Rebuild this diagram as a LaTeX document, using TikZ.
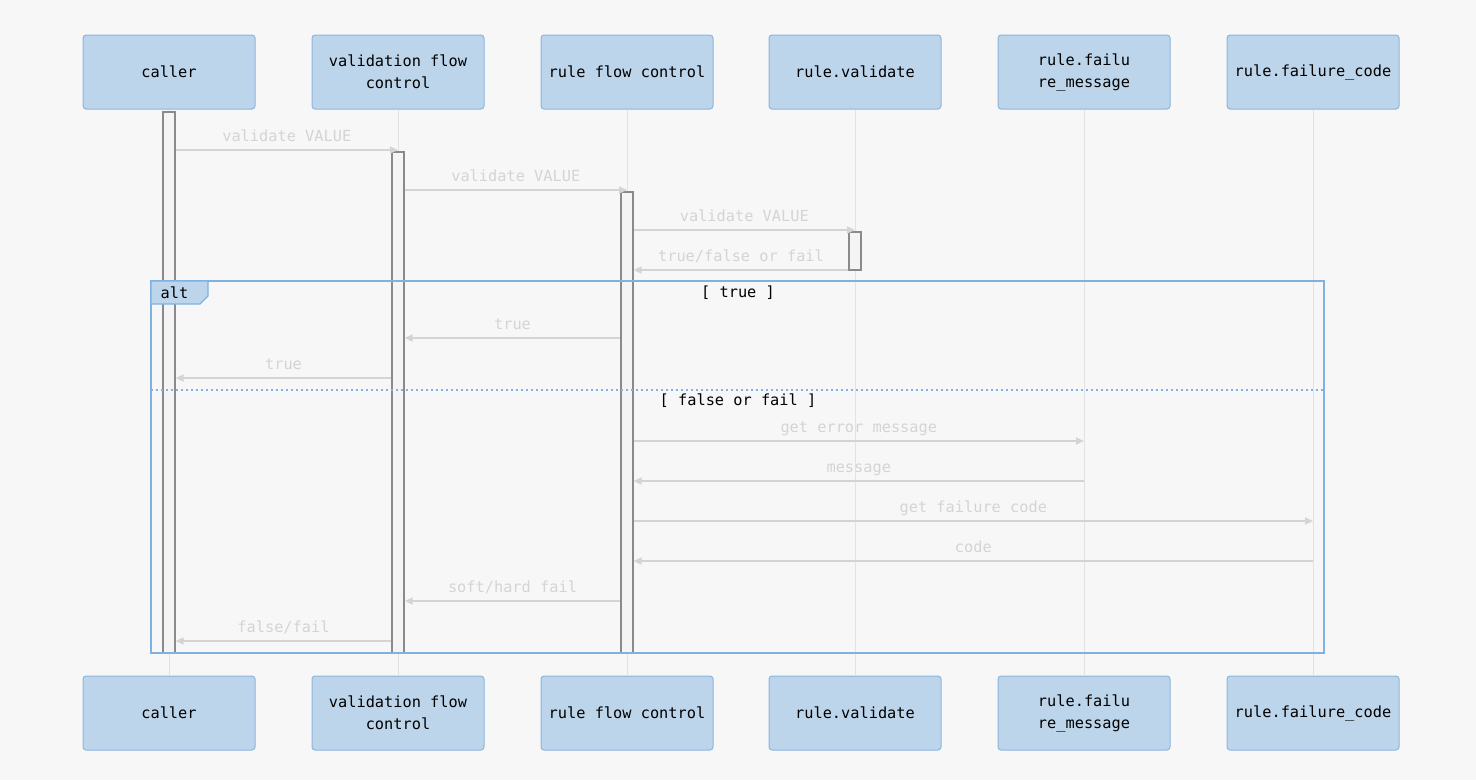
\documentclass[tikz,border=0pt]{standalone}
\usepackage{fontspec}
\setmonofont{DejaVu Sans Mono}
\usetikzlibrary{arrows.meta}
\definecolor{bgcol}{HTML}{F7F7F7}
\definecolor{headfill}{HTML}{BDD5EA}
\definecolor{headline}{HTML}{8DB6DF}
\definecolor{framecol}{HTML}{80B1E0}
\definecolor{msgcol}{HTML}{D4D4D4}
\definecolor{lifecol}{HTML}{E2E2E2}
\definecolor{actline}{HTML}{8A8A8A}
\definecolor{actfill}{HTML}{F4F4F4}
\begin{document}
\begin{tikzpicture}[x=1pt,y=-1pt,
  font=\ttfamily\fontsize{15.3}{22}\selectfont,
  head/.style={draw=headline,fill=headfill,line width=1pt,rounded corners=3pt,
    minimum width=172pt,minimum height=74pt,align=center,inner sep=0pt},
  act/.style={draw=actline,fill=actfill,line width=1.2pt,minimum width=12pt,inner sep=0pt},
  msg/.style={draw=msgcol,line width=1.6pt,-{Triangle[length=8pt,width=7pt]}},
  lbl/.style={text=msgcol,yshift=12.5pt,text height=11pt,text depth=3pt,inner sep=0pt},
  frame/.style={draw=framecol,line width=1.8pt}]
		\useasboundingbox (0,0) rectangle (1476,780);
		\fill[bgcol] (0,0) rectangle (1476,780);
		%
		\foreach \n/\x/\t in {C/169/caller, V/398/{validation flow\\control},
		  R/627/rule flow control, RV/855/rule.validate,
		  RM/1084/{rule.failu\\re\_message}, RC/1313/rule.failure\_code} {
		  \node[head] (\n) at (\x,72) {\t};
		  \node[head] (\n b) at (\x,713) {\t};
		  \draw[lifecol,line width=1pt] (\n) -- (\n b);
		}
		%
		\node[act,minimum height=541pt] (aC) at (169,382.5) {};
		\node[act,minimum height=501pt] (aV) at (398,402.5) {};
		\node[act,minimum height=461pt] (aR) at (627,422.5) {};
		\node[act,minimum height=38pt] (aRV) at (855,251) {};
		%
		\draw[msg] (aC.east |- 0,150) -- node[lbl]{validate VALUE} (V |- 0,150);
		\draw[msg] (aV.east |- 0,190) -- node[lbl]{validate VALUE} (R |- 0,190);
		\draw[msg] (aR.east |- 0,230) -- node[lbl]{validate VALUE} (RV |- 0,230);
		\draw[msg] (aRV.west |- 0,270) -- node[lbl]{true/false or fail} (aR.east |- 0,270);
		\draw[msg] (aR.west |- 0,338) -- node[lbl]{true} (aV.east |- 0,338);
		\draw[msg] (aV.west |- 0,378) -- node[lbl]{true} (aC.east |- 0,378);
		\draw[msg] (aR.east |- 0,441) -- node[lbl]{get error message} (RM |- 0,441);
		\draw[msg] (RM |- 0,481) -- node[lbl]{message} (aR.east |- 0,481);
		\draw[msg] (aR.east |- 0,521) -- node[lbl]{get failure code} (RC |- 0,521);
		\draw[msg] (RC |- 0,561) -- node[lbl]{code} (aR.east |- 0,561);
		\draw[msg] (aR.west |- 0,601) -- node[lbl]{soft/hard fail} (aV.east |- 0,601);
		\draw[msg] (aV.west |- 0,641) -- node[lbl]{false/fail} (aC.east |- 0,641);
		%
		\draw[frame] (151,281) rectangle (1324,653);
		\draw[frame,fill=headfill,line width=1.2pt] (151,281) -- (208,281) -- (208,296)
		  -- (200,304) -- (151,304) -- cycle;
		\node (alt) at (174.5,292.5) {alt};
		\node (g1) at (738,292.5) {[ true ]};
		\draw[frame,line width=1.5pt,dash pattern=on 2pt off 3pt] (151,390) -- (1324,390);
		\node (g2) at (738,400.5) {[ false or fail ]};
\end{tikzpicture}
\end{document}
